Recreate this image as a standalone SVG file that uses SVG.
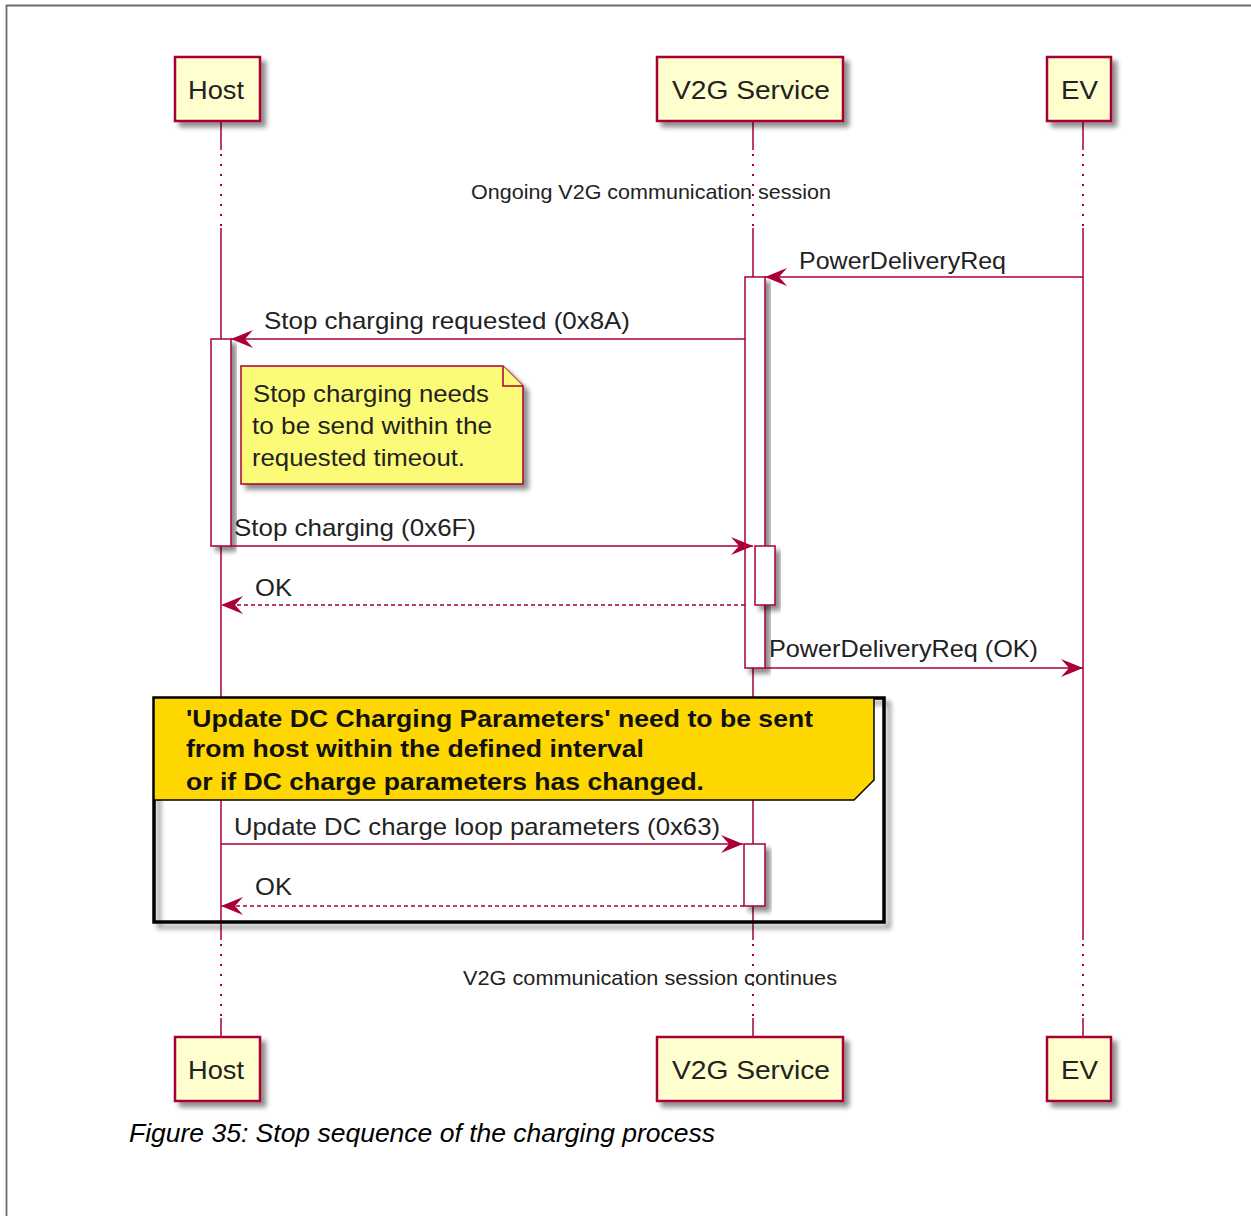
<svg xmlns="http://www.w3.org/2000/svg" width="1251" height="1216" viewBox="0 0 1251 1216">
<style>
text{font-family:"Liberation Sans",Arial,sans-serif;fill:#222}
.part{fill:#FEFECE;stroke:#A80036;stroke-width:2.5}
.pt{font-size:26px}
.life{stroke:#A80036;stroke-width:1.5;fill:none}
.dots{stroke:#A80036;stroke-width:2;stroke-dasharray:2 8;fill:none}
.act{fill:#fff;stroke:#A80036;stroke-width:1.5}
.msg{stroke:#A80036;stroke-width:1.5;fill:none}
.ret{stroke:#A80036;stroke-width:1.5;fill:none;stroke-dasharray:4 3}
.ml{font-size:24px}
.div{font-size:21px}
.hdr{font-size:24px;font-weight:bold;fill:#111}
</style>
<defs>
<filter id="sh" x="-20%" y="-20%" width="150%" height="150%">
<feGaussianBlur in="SourceAlpha" stdDeviation="2.5"/>
<feOffset dx="5" dy="5" result="b"/>
<feComponentTransfer><feFuncA type="linear" slope="0.45"/></feComponentTransfer>
<feMerge><feMergeNode/><feMergeNode in="SourceGraphic"/></feMerge>
</filter>
<marker id="ah" viewBox="0 0 22 18" refX="22" refY="9" markerWidth="22" markerHeight="18" markerUnits="userSpaceOnUse" orient="auto">
<path d="M0,0 L22,9 L0,18 L8,9 Z" fill="#A80036"/>
</marker>
</defs>
<path d="M6.5,1216 V5.5 H1251" fill="none" stroke="#6b6b6b" stroke-width="1.8"/>

<g id="lifelines">
<path class="life" d="M221,121 V150 M221,228 V940 M221,1018 V1037"/>
<path class="dots" d="M221,154 V228 M221,944 V1018"/>
<path class="life" d="M753,121 V150 M753,228 V940 M753,1018 V1037"/>
<path class="dots" d="M753,154 V228 M753,944 V1018"/>
<path class="life" d="M1083,121 V150 M1083,228 V940 M1083,1018 V1037"/>
<path class="dots" d="M1083,154 V228 M1083,944 V1018"/>
</g>

<g id="host-top"><rect class="part" x="175" y="57" width="85" height="64" filter="url(#sh)"/><text class="pt" x="188" y="99" textLength="56" lengthAdjust="spacingAndGlyphs">Host</text></g>
<g id="v2g-top"><rect class="part" x="657" y="57" width="186" height="64" filter="url(#sh)"/><text class="pt" x="672" y="99" textLength="158" lengthAdjust="spacingAndGlyphs">V2G Service</text></g>
<g id="ev-top"><rect class="part" x="1047" y="57" width="64" height="64" filter="url(#sh)"/><text class="pt" x="1061" y="99" textLength="37" lengthAdjust="spacingAndGlyphs">EV</text></g>

<text class="div" x="471" y="199" textLength="360" lengthAdjust="spacingAndGlyphs">Ongoing V2G communication session</text>

<g id="activations">
<rect class="act" x="745" y="277" width="20" height="391" filter="url(#sh)"/>
<rect class="act" x="211" y="339" width="20" height="207" filter="url(#sh)"/>
<rect class="act" x="755" y="546" width="20" height="59" filter="url(#sh)"/>
<rect class="act" x="744" y="844" width="21" height="62" filter="url(#sh)"/>
</g>

<g id="note">
<path d="M241,366 H503 L523,386 V484 H241 Z" fill="#FBFB77" stroke="#A80036" stroke-width="1.5" filter="url(#sh)"/>
<path d="M503,366 V386 H523" fill="#FBFB77" stroke="#A80036" stroke-width="1.5"/>
<text class="ml" x="253" y="402" textLength="236" lengthAdjust="spacingAndGlyphs">Stop charging needs</text>
<text class="ml" x="252" y="434" textLength="240" lengthAdjust="spacingAndGlyphs">to be send within the</text>
<text class="ml" x="252" y="466" textLength="213" lengthAdjust="spacingAndGlyphs">requested timeout.</text>
</g>

<g id="group">
<rect x="154" y="698" width="730" height="224" fill="none" stroke="#000" stroke-width="3.5" filter="url(#sh)"/>
<path d="M154,698 H874 V780 L854,800 H154 Z" fill="#FFD700" stroke="#000" stroke-width="1.5"/>
<text class="hdr" x="186" y="727" textLength="627" lengthAdjust="spacingAndGlyphs">'Update DC Charging Parameters' need to be sent</text>
<text class="hdr" x="186" y="757" textLength="458" lengthAdjust="spacingAndGlyphs">from host within the defined interval</text>
<text class="hdr" x="186" y="790" textLength="518" lengthAdjust="spacingAndGlyphs">or if DC charge parameters has changed.</text>
</g>

<g id="connectors">
<line class="msg" x1="1083" y1="277" x2="765" y2="277" marker-end="url(#ah)"/>
<text class="ml" x="799" y="269" textLength="207" lengthAdjust="spacingAndGlyphs">PowerDeliveryReq</text>
<line class="msg" x1="745" y1="339" x2="231" y2="339" marker-end="url(#ah)"/>
<text class="ml" x="264" y="329" textLength="366" lengthAdjust="spacingAndGlyphs">Stop charging requested (0x8A)</text>
<line class="msg" x1="231" y1="546" x2="753" y2="546" marker-end="url(#ah)"/>
<text class="ml" x="234" y="536" textLength="242" lengthAdjust="spacingAndGlyphs">Stop charging (0x6F)</text>
<line class="ret" x1="745" y1="605" x2="221" y2="605" marker-end="url(#ah)"/>
<text class="ml" x="255" y="596" textLength="37" lengthAdjust="spacingAndGlyphs">OK</text>
<line class="msg" x1="765" y1="668" x2="1083" y2="668" marker-end="url(#ah)"/>
<text class="ml" x="769" y="657" textLength="269" lengthAdjust="spacingAndGlyphs">PowerDeliveryReq (OK)</text>
<line class="msg" x1="221" y1="844" x2="743" y2="844" marker-end="url(#ah)"/>
<text class="ml" x="234" y="835" textLength="486" lengthAdjust="spacingAndGlyphs">Update DC charge loop parameters (0x63)</text>
<line class="ret" x1="744" y1="906" x2="221" y2="906" marker-end="url(#ah)"/>
<text class="ml" x="255" y="895" textLength="37" lengthAdjust="spacingAndGlyphs">OK</text>
</g>

<text class="div" x="463" y="985" textLength="374" lengthAdjust="spacingAndGlyphs">V2G communication session continues</text>

<g id="host-bottom"><rect class="part" x="175" y="1037" width="85" height="64" filter="url(#sh)"/><text class="pt" x="188" y="1079" textLength="56" lengthAdjust="spacingAndGlyphs">Host</text></g>
<g id="v2g-bottom"><rect class="part" x="657" y="1037" width="186" height="64" filter="url(#sh)"/><text class="pt" x="672" y="1079" textLength="158" lengthAdjust="spacingAndGlyphs">V2G Service</text></g>
<g id="ev-bottom"><rect class="part" x="1047" y="1037" width="64" height="64" filter="url(#sh)"/><text class="pt" x="1061" y="1079" textLength="37" lengthAdjust="spacingAndGlyphs">EV</text></g>

<text x="129" y="1142" font-size="25" font-style="italic" textLength="586" lengthAdjust="spacingAndGlyphs" style="fill:#000">Figure 35: Stop sequence of the charging process</text>
</svg>
